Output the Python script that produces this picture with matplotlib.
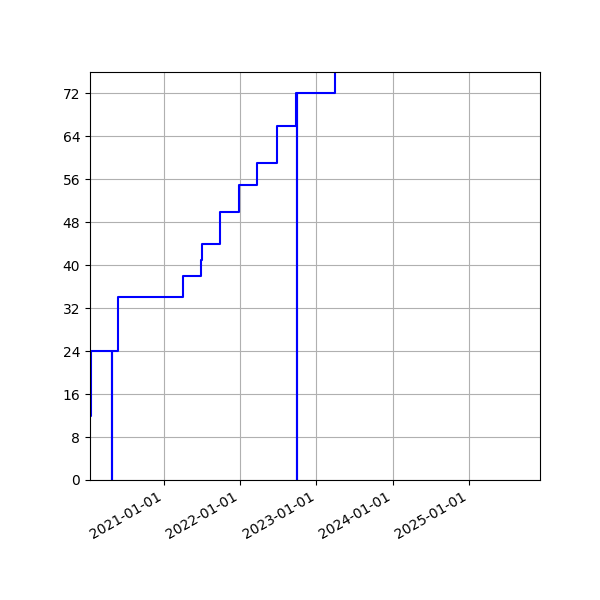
import datetime as dt

import matplotlib
matplotlib.use("Agg")
import matplotlib.pyplot as plt
import matplotlib.dates as mdates

# step points (date, cumulative count); two brief dips to 0
dates = [
    "2020-01-12", "2020-01-17", "2020-04-25", "2020-04-26", "2020-05-23",
    "2021-04-03", "2021-06-27", "2021-07-03", "2021-09-25", "2021-12-25",
    "2022-03-20", "2022-06-27", "2022-09-27", "2022-10-01", "2022-10-02",
    "2023-04-01",
]
counts = [12, 24, 0, 24, 34, 38, 41, 44, 50, 55, 59, 66, 72, 0, 72, 82]

x_start = "2020-01-12"
x_end = "2025-12-07"
y_ticks = list(range(0, 73, 8))

xs = [dt.datetime.strptime(d, "%Y-%m-%d") for d in dates]

fig, ax = plt.subplots(figsize=(6, 6), dpi=100)
ax.plot(xs, counts, color="blue", drawstyle="steps-post", linewidth=1.5)

ax.set_xlim(dt.datetime.strptime(x_start, "%Y-%m-%d"),
            dt.datetime.strptime(x_end, "%Y-%m-%d"))
ax.set_ylim(0, 76)
ax.set_yticks(y_ticks)
ax.xaxis.set_major_locator(mdates.YearLocator())
ax.xaxis.set_major_formatter(mdates.DateFormatter("%Y-%m-%d"))
ax.grid(True)

fig.autofmt_xdate()
fig.subplots_adjust(left=0.15, right=0.9, top=0.88, bottom=0.2)
fig.savefig("out.png", dpi=100)
